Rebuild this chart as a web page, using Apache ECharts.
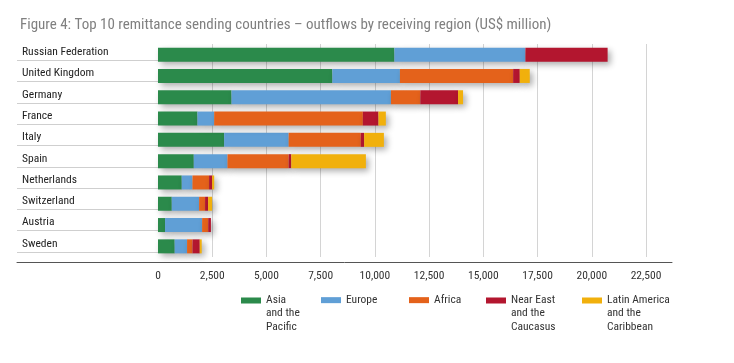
<!DOCTYPE html>
<html>
<head>
<meta charset="utf-8">
<script src="https://cdn.jsdelivr.net/npm/echarts@6/dist/echarts.min.js"></script>
<style>html,body{margin:0;padding:0;background:#fff;}#c{width:734px;height:363px;}</style>
</head>
<body>
<div id="c"></div>
<script>
var categories = ['Russian Federation','United Kingdom','Germany','France','Italy','Spain','Netherlands','Switzerland','Austria','Sweden'];
var asiaPacific = [10900, 8040, 3390, 1820, 3050, 1650, 1095, 635, 325, 770];
var europe = [6040, 3115, 7350, 770, 2975, 1555, 495, 1260, 1710, 570];
var africa = [0, 5220, 1355, 6855, 3325, 2820, 765, 275, 280, 250];
var nearEast = [3790, 305, 1740, 720, 155, 120, 140, 140, 125, 335];
var latinAmerica = [0, 460, 230, 340, 910, 3440, 95, 185, 0, 90];
var xTicks = {min: 0, max: 22500, interval: 2500};

var FONT = "'Liberation Sans Narrow','Arial Narrow','Roboto Condensed',Roboto,sans-serif";
var seriesDefs = [
  {name: 'Asia', label: 'Asia\nand the\nPacific', data: asiaPacific, color: '#2b8a4b'},
  {name: 'Europe', label: 'Europe', data: europe, color: '#609fd6'},
  {name: 'Africa', label: 'Africa', data: africa, color: '#e4621b'},
  {name: 'Near East', label: 'Near East\nand the\nCaucasus', data: nearEast, color: '#b3162f'},
  {name: 'Latin America', label: 'Latin America\nand the\nCaribbean', data: latinAmerica, color: '#f1b00c'}
];
var labelMap = {};
seriesDefs.forEach(function(s){ labelMap[s.name] = s.label; });

var multiIcon = 'path://M0,0h0.01v0.01h-0.01zM0,3.5h20v6h-20zM0,38.99h0.01v0.01h-0.01z';
var legendLefts = [241, 321, 409, 486, 582];
var legends = seriesDefs.map(function(s, i){
  var multi = s.label.indexOf('\n') >= 0;
  return {
    data: [s.name],
    left: legendLefts[i],
    top: 293.5,
    padding: 0,
    itemWidth: 20,
    itemHeight: multi ? 39 : 6,
    icon: multi ? multiIcon : 'rect',
    itemStyle: {shadowBlur: 0, shadowOffsetX: 0, shadowOffsetY: 0},
    selectedMode: false,
    formatter: function(n){ return labelMap[n]; },
    textStyle: {fontFamily: FONT, fontSize: 11.5, color: '#333', lineHeight: 13.3}
  };
});

var chart = echarts.init(document.getElementById('c'));
chart.setOption({
  animation: false,
  backgroundColor: '#fff',
  title: {
    text: 'Figure 4: Top 10 remittance sending countries \u2013 outflows by receiving region (US$ million)',
    left: 15, top: 13,
    textStyle: {fontFamily: FONT, fontSize: 15, fontWeight: 'normal', color: '#808080'}
  },
  legend: legends,
  grid: [
    {left: 158, right: 88, top: 44, height: 213},
    {left: 17, width: 141, top: 39, height: 213},
    {left: 17, right: 62, top: 44, height: 218.7}
  ],
  xAxis: [
    {
      type: 'value', gridIndex: 0, min: xTicks.min, max: xTicks.max, interval: xTicks.interval,
      offset: 5.7,
      axisLine: {show: false}, axisTick: {show: false},
      splitLine: {show: true, showMinLine: false, lineStyle: {color: '#d4d4d4', width: 1}},
      axisLabel: {margin: 7, color: '#333', fontFamily: FONT, fontSize: 11.5,
        formatter: function(v){ return String(v).replace(/\B(?=(\d{3})+(?!\d))/g, ','); }}
    },
    {type: 'value', gridIndex: 1, show: false},
    {
      type: 'value', gridIndex: 2, position: 'bottom',
      axisLine: {show: true, lineStyle: {color: '#555', width: 1}},
      axisTick: {show: false}, axisLabel: {show: false}, splitLine: {show: false}
    }
  ],
  yAxis: [
    {type: 'category', gridIndex: 0, data: categories, inverse: true,
      axisLine: {show: false}, axisTick: {show: false}, axisLabel: {show: false}, splitLine: {show: false}},
    {type: 'category', gridIndex: 1, data: categories, inverse: true, position: 'left',
      axisLine: {show: false}, axisTick: {show: false},
      axisLabel: {inside: true, margin: 5, align: 'left', verticalAlign: 'top', lineHeight: 5,
        color: '#222', fontFamily: FONT, fontSize: 11.5},
      splitLine: {show: true, interval: function(i){ return i > 0; }, lineStyle: {color: '#cfcfcf', width: 1}}},
    {type: 'value', gridIndex: 2, show: false}
  ],
  series: seriesDefs.map(function(s){
    return {
      type: 'bar', name: s.name, stack: 'total', data: s.data,
      xAxisIndex: 0, yAxisIndex: 0, barWidth: 14,
      itemStyle: {color: s.color, shadowBlur: 6, shadowColor: 'rgba(0,0,0,0.32)', shadowOffsetX: 3, shadowOffsetY: 3}
    };
  })
});
</script>
</body>
</html>
